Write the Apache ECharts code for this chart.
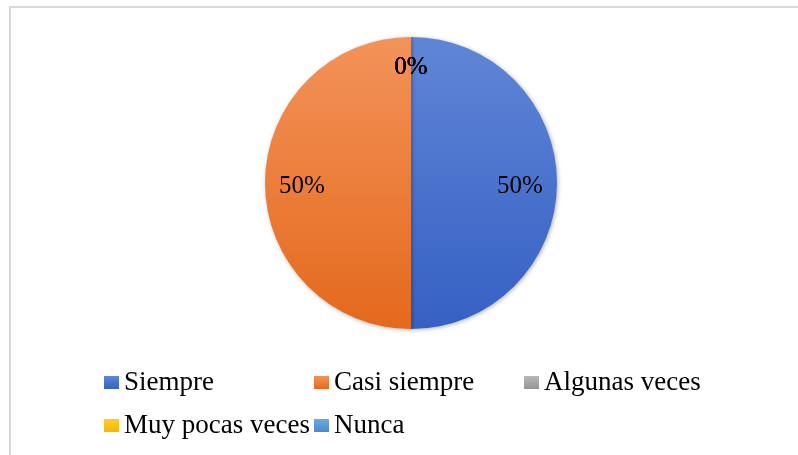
<!DOCTYPE html>
<html>
<head>
<meta charset="utf-8">
<script src="https://cdn.jsdelivr.net/npm/echarts@6/dist/echarts.min.js"></script>
<style>
  html, body { margin: 0; padding: 0; background: #fff; }
  #chart { width: 798px; height: 455px; }
</style>
</head>
<body>
<div id="chart"></div>
<script>
// datos del gráfico
const categorias = ['Siempre', 'Casi siempre', 'Algunas veces', 'Muy pocas veces', 'Nunca']
const valores = [50, 50, 0, 0, 0]
// colores: [arriba, abajo] del degradado
const colores = [
  ['#5f86d6', '#3660c4'],
  ['#f3935a', '#e4691c'],
  ['#b8b8b8', '#959595'],
  ['#ffcc33', '#f5b700'],
  ['#6fa8dc', '#4a8bcd']
]

const chart = echarts.init(document.getElementById('chart'))

const degradado = (c) => new echarts.graphic.LinearGradient(0, 0, 0, 1, [
  { offset: 0, color: c[0] },
  { offset: 1, color: c[1] }
])

const datos = categorias.map((name, i) => ({
  name,
  value: valores[i],
  itemStyle: { color: degradado(colores[i]) }
}))

const fuente = 'Liberation Serif'

const option = {
  animation: false,
  graphic: [
    {
      type: 'rect',
      shape: { x: 10, y: 7, width: 820, height: 470 },
      style: { fill: 'none', stroke: '#d9d9d9', lineWidth: 2 },
      silent: true
    }
  ],
  legend: {
    data: categorias,
    left: 104,
    top: 361,
    width: 640,
    padding: 0,
    itemGap: 0,
    itemWidth: 15,
    itemHeight: 13,
    icon: 'rect',
    textStyle: {
      fontFamily: fuente,
      fontSize: 27,
      color: '#000',
      width: 190,
      lineHeight: 43
    }
  },
  series: [
    {
      name: 'visible',
      type: 'pie',
      center: [411, 183],
      radius: 146,
      startAngle: 90,
      clockwise: true,
      silent: true,
      label: { show: false },
      labelLine: { show: false },
      itemStyle: {
        shadowBlur: 4,
        shadowColor: 'rgba(0,0,0,0.3)',
        shadowOffsetX: 1,
        shadowOffsetY: 1
      },
      data: datos
    },
    {
      name: 'etiquetas',
      type: 'pie',
      center: [411, 183],
      radius: [66, 146],
      startAngle: 90,
      clockwise: true,
      silent: true,
      percentPrecision: 0,
      itemStyle: { color: 'rgba(0,0,0,0)' },
      label: {
        show: true,
        position: 'inside',
        formatter: '{d}%',
        fontFamily: fuente,
        fontSize: 25,
        color: '#000'
      },
      labelLine: { show: false },
      labelLayout: (params) => (valores[params.dataIndex] === 0 ? { dy: -7 } : { dy: 3 }),
      data: categorias.map((name, i) => ({ name, value: valores[i] }))
    }
  ]
}

chart.setOption(option)
</script>
</body>
</html>
